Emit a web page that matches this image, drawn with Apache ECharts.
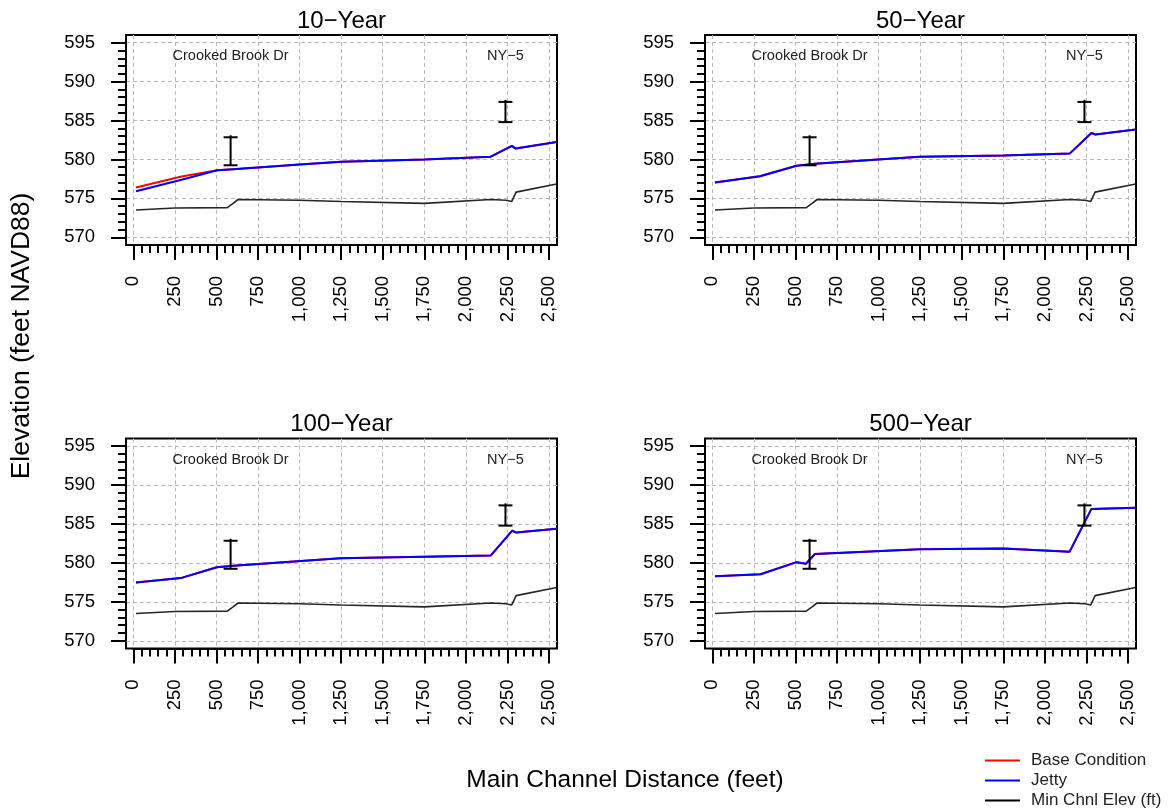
<!DOCTYPE html>
<html>
<head>
<meta charset="utf-8">
<script src="https://cdn.jsdelivr.net/npm/echarts@6.0.0/dist/echarts.min.js"></script>
<style>
html, body { margin: 0; padding: 0; background: #fff; }
#main { width: 1170px; height: 812px; }
</style>
</head>
<body>
<div id="main"></div>
<script>
var chart = echarts.init(document.getElementById('main'));
var FONT = '"Liberation Sans", Arial, sans-serif';

// panel titles
var panelTitles = ['10−Year', '50−Year', '100−Year', '500−Year'];

// water surface profiles, distance (ft) / elevation (ft NAVD88)
var x10 = [16, 290, 505, 600, 1000, 1250, 1750, 2150, 2276, 2300, 2546];
var base10 = [576.4, 577.8, 578.6, 578.75, 579.35, 579.7, 580.0, 580.35, 581.75, 581.4, 582.25];
var jetty10 = [575.9, 577.4, 578.6, 578.75, 579.35, 579.7, 580.0, 580.35, 581.75, 581.4, 582.25];

var x50 = [16, 286, 507, 617, 998, 1248, 1749, 2149, 2280, 2304, 2546];
var base50 = [577.05, 577.85, 579.2, 579.45, 580.0, 580.35, 580.5, 580.75, 583.4, 583.2, 583.85];
var jetty50 = [577.05, 577.85, 579.2, 579.45, 580.0, 580.35, 580.5, 580.75, 583.4, 583.2, 583.85];

var x100 = [16, 285, 502, 602, 1245, 1747, 2149, 2279, 2303, 2546];
var base100 = [577.5, 578.05, 579.45, 579.65, 580.6, 580.8, 580.95, 584.15, 583.9, 584.4];
var jetty100 = [577.5, 578.05, 579.45, 579.65, 580.6, 580.8, 580.95, 584.15, 583.9, 584.4];

var x500 = [16, 290, 507, 563, 617, 1248, 1749, 2149, 2280, 2546];
var base500 = [578.3, 578.55, 580.1, 579.9, 581.15, 581.75, 581.85, 581.45, 586.95, 587.1];
var jetty500 = [578.3, 578.55, 580.1, 579.9, 581.15, 581.75, 581.85, 581.45, 586.95, 587.1];

// channel bottom
var minChnlX = [16, 250, 565, 600, 630, 1000, 1250, 1750, 2150, 2240, 2276, 2302, 2546];
var minChnlElev = [573.5, 573.75, 573.8, 574.35, 574.85, 574.75, 574.6, 574.35, 574.85, 574.75, 574.6, 575.8, 576.85];

// bridges: low chord / high chord
var bridgeNames = ['Crooked Brook Dr', 'NY−5'];
var bridgeX = [585, 2238];
var bridgeLow = [579.25, 584.8];
var bridgeHigh = [582.85, 587.4];

var profX = [x10, x50, x100, x500];
var profBase = [base10, base50, base100, base500];
var profJetty = [jetty10, jetty50, jetty100, jetty500];

function zip(xs, ys) {
  return xs.map(function (x, i) { return [x, ys[i]]; });
}
function commas(v) {
  return String(v).replace(/\B(?=(\d{3})+(?!\d))/g, ',');
}

var boxes = [[126, 35], [705, 35], [126, 438.5], [705, 438.5]];
var BW = 431, BH = 210;

var grids = [], xAxes = [], yAxes = [], series = [], graphics = [];
var tickStyle = { color: '#000', width: 2 };
var gridLine = { show: true, lineStyle: { color: '#b8b8b8', width: 1, type: [4, 3] } };
var labelStyle = { fontSize: 18.5, color: '#000', fontFamily: FONT, margin: 31 };

for (var p = 0; p < 4; p++) {
  var bl = boxes[p][0], bt = boxes[p][1];
  var a = 3 * p;
  // data box
  grids.push({ left: bl, top: bt, width: BW, height: BH, show: true, borderColor: '#000', borderWidth: 2, backgroundColor: 'transparent', outerBoundsMode: 'none' });
  // x ticks grid (0..2500)
  grids.push({ left: bl + 7.3, top: bt, width: 415.7, height: BH, outerBoundsMode: 'none' });
  // y ticks grid (570..595)
  grids.push({ left: bl, top: bt + 7.7, width: BW, height: 194.6, outerBoundsMode: 'none' });

  xAxes.push({ gridIndex: a, type: 'value', min: -44, max: 2548, show: false });
  xAxes.push({
    gridIndex: a + 1, type: 'value', min: 0, max: 2500, interval: 250,
    axisLine: { show: true, lineStyle: tickStyle },
    axisTick: { show: true, length: 15, lineStyle: tickStyle },
    minorTick: { show: true, splitNumber: 5, length: 8, lineStyle: tickStyle },
    splitLine: gridLine,
    axisLabel: Object.assign({ rotate: 90, formatter: commas }, labelStyle)
  });
  xAxes.push({ gridIndex: a + 2, type: 'value', min: 0, max: 1, show: false });

  yAxes.push({ gridIndex: a, type: 'value', min: 569, max: 596, show: false });
  yAxes.push({ gridIndex: a + 1, type: 'value', min: 0, max: 1, show: false });
  yAxes.push({
    gridIndex: a + 2, type: 'value', min: 570, max: 595, interval: 5,
    axisLine: { show: true, lineStyle: tickStyle },
    axisTick: { show: true, length: 15, lineStyle: tickStyle },
    minorTick: { show: true, splitNumber: 5, length: 8, lineStyle: tickStyle },
    splitLine: gridLine,
    axisLabel: labelStyle
  });

  series.push({
    name: 'Min Chnl Elev (ft)', type: 'line', xAxisIndex: a, yAxisIndex: a,
    data: zip(minChnlX, minChnlElev), symbol: 'none', z: 3,
    lineStyle: { color: '#262626', width: 1.6 }, itemStyle: { color: '#000' }
  });
  series.push({
    name: 'Base Condition', type: 'line', xAxisIndex: a, yAxisIndex: a,
    data: zip(profX[p], profBase[p]), symbol: 'none', z: 4,
    lineStyle: { color: '#ff0000', width: 2 }, itemStyle: { color: '#ff0000' }
  });
  series.push({
    name: 'Jetty', type: 'line', xAxisIndex: a, yAxisIndex: a,
    data: zip(profX[p], profJetty[p]), symbol: 'none', z: 5,
    lineStyle: { color: '#0000ff', width: 2 }, itemStyle: { color: '#0000ff' }
  });
  series.push({
    type: 'custom', xAxisIndex: a, yAxisIndex: a, z: 6, clip: false,
    data: bridgeX.map(function (x, i) { return [x, bridgeLow[i], bridgeHigh[i], i]; }),
    renderItem: function (params, api) {
      var x = api.value(0);
      var lo = api.coord([x, api.value(1)]);
      var hi = api.coord([x, api.value(2)]);
      var lab = api.coord([x, 593.3]);
      var st = { stroke: '#000', lineWidth: 2 };
      return {
        type: 'group',
        children: [
          { type: 'line', shape: { x1: lo[0], y1: lo[1], x2: hi[0], y2: hi[1] - 2 }, style: st },
          { type: 'line', shape: { x1: lo[0] - 7, y1: lo[1], x2: lo[0] + 7, y2: lo[1] }, style: st },
          { type: 'line', shape: { x1: hi[0] - 7, y1: hi[1], x2: hi[0] + 7, y2: hi[1] }, style: st },
          { type: 'text', x: lab[0], y: lab[1], style: { text: bridgeNames[api.value(3)], align: 'center', verticalAlign: 'middle', fontSize: 14.5, fontFamily: FONT, fill: '#222' } }
        ]
      };
    }
  });

  graphics.push({
    type: 'text', x: bl + BW / 2, y: bt - 14,
    style: { text: panelTitles[p], align: 'center', verticalAlign: 'middle', fontSize: 24, fontFamily: FONT, fill: '#000' }
  });
}

graphics.push({
  type: 'text', x: 22, y: 336, rotation: Math.PI / 2,
  style: { text: 'Elevation (feet NAVD88)', align: 'center', verticalAlign: 'middle', fontSize: 26.5, fontFamily: FONT, fill: '#000' }
});
graphics.push({
  type: 'text', x: 625, y: 780,
  style: { text: 'Main Channel Distance (feet)', align: 'center', verticalAlign: 'middle', fontSize: 24.5, fontFamily: FONT, fill: '#000' }
});

var option = {
  animation: false,
  textStyle: { fontFamily: FONT },
  grid: grids,
  xAxis: xAxes,
  yAxis: yAxes,
  series: series,
  graphic: graphics,
  legend: {
    orient: 'vertical', left: 985, top: 752, height: 80, padding: 0,
    icon: 'rect', itemWidth: 35, itemHeight: 2, itemGap: 3,
    data: ['Base Condition', 'Jetty', 'Min Chnl Elev (ft)'],
    textStyle: { fontSize: 17, color: '#222', fontFamily: FONT, padding: [0, 0, 0, 6] }
  }
};

option && chart.setOption(option);
</script>
</body>
</html>
